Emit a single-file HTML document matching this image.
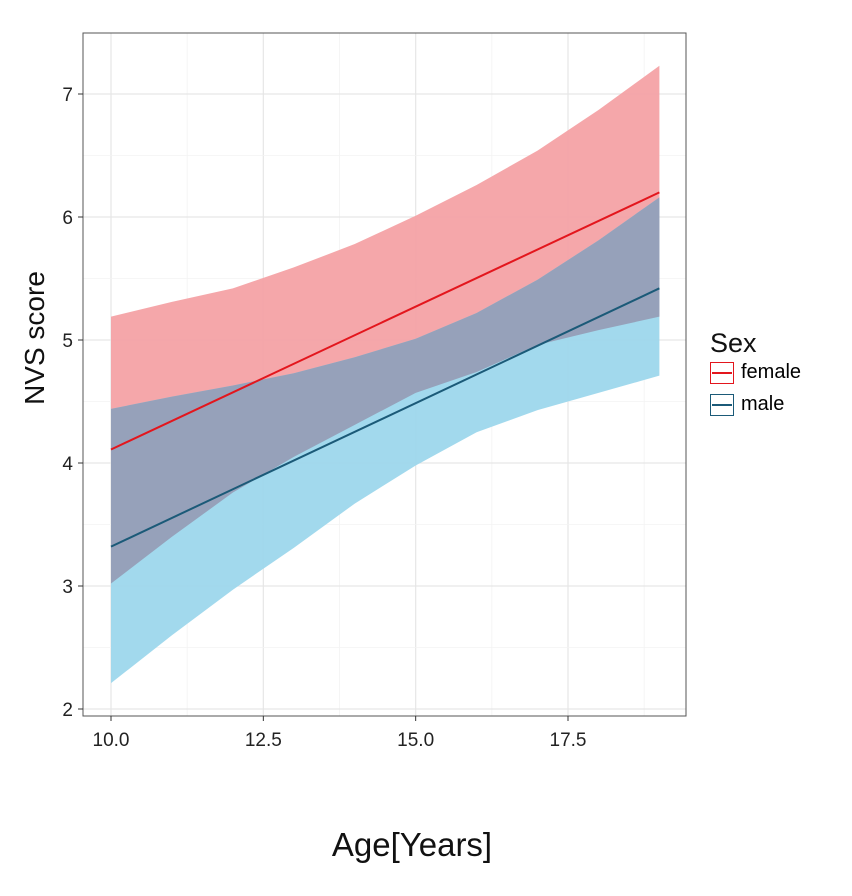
<!DOCTYPE html>
<html><head><meta charset="utf-8"><style>
body{margin:0;background:#fff;font-family:"Liberation Sans",Arial,sans-serif}
</style></head><body>
<svg id="chart" width="852" height="891" xmlns="http://www.w3.org/2000/svg"></svg>
<script>
const ages=[10,11,12,13,14,15,16,17,18,19];
const femaleUpper=[5.19,5.31,5.42,5.59,5.78,6.01,6.26,6.54,6.87,7.23];
const femaleLower=[3.02,3.40,3.76,4.05,4.31,4.57,4.74,4.96,5.08,5.19];
const maleUpper=[4.44,4.54,4.63,4.73,4.86,5.01,5.22,5.49,5.81,6.16];
const maleLower=[2.21,2.60,2.97,3.31,3.67,3.98,4.25,4.43,4.57,4.71];
const femaleFit=[4.11,6.20];
const maleFit=[3.32,5.42];
const fitAges=[10,19];
const xTicks=[10,12.5,15,17.5];
const xTickLabels=["10.0","12.5","15.0","17.5"];
const yTicks=[2,3,4,5,6,7];
const yTickLabels=["2","3","4","5","6","7"];

const svg=document.getElementById('chart');
const NS="http://www.w3.org/2000/svg";
const L=83,R=686,T=33,B=716;
const X=v=>111+(v-10)*(457/7.5);
const Y=v=>709-(v-2)*123;
function mk(tag,attrs,parent){const e=document.createElementNS(NS,tag);for(const k in attrs)e.setAttribute(k,attrs[k]);(parent||svg).appendChild(e);return e;}

const panel=mk('rect',{x:L,y:T,width:R-L,height:B-T,fill:'#fff'});


for(let v=8.75;v<=20;v+=1.25){const x=X(v);if(x<L||x>R)continue;const g=mk('line',{x1:x,x2:x,y1:T,y2:B,stroke:xTicks.includes(v)?'#e6e6e6':'#f3f3f3','stroke-width':xTicks.includes(v)?1.2:0.8});

}
for(let v=1.5;v<=7.6;v+=0.5){const y=Y(v);if(y<T||y>B)continue;const g=mk('line',{x1:L,x2:R,y1:y,y2:y,stroke:yTicks.includes(v)?'#e6e6e6':'#f3f3f3','stroke-width':yTicks.includes(v)?1.2:0.8});

}
function ribbon(up,lo,fill,name){
  let d='M'+ages.map((a,i)=>X(a)+','+Y(up[i])).join('L');
  d+='L'+ages.slice().reverse().map((a,j)=>{const i=ages.length-1-j;return X(a)+','+Y(lo[i]);}).join('L')+'Z';
  const p=mk('path',{d:d,fill:fill,'fill-opacity':0.93});
  
  
}
ribbon(femaleUpper,femaleLower,'#f4a0a4','female-ribbon');
ribbon(maleUpper,maleLower,'#9bd6ec','male-ribbon');
const ovUp=ages.map((a,i)=>Math.min(femaleUpper[i],maleUpper[i]));
const ovLo=ages.map((a,i)=>Math.max(femaleLower[i],maleLower[i]));
ribbon(ovUp,ovLo,'#959db6','overlap-ribbon');
const fl=mk('line',{x1:X(fitAges[0]),y1:Y(femaleFit[0]),x2:X(fitAges[1]),y2:Y(femaleFit[1]),stroke:'#e3161d','stroke-width':2});


const ml=mk('line',{x1:X(fitAges[0]),y1:Y(maleFit[0]),x2:X(fitAges[1]),y2:Y(maleFit[1]),stroke:'#1b5a78','stroke-width':2});


const border=mk('rect',{x:L,y:T,width:R-L,height:B-T,fill:'none',stroke:'#555','stroke-width':1});


xTicks.forEach((v,i)=>{
  const t=mk('line',{x1:X(v),x2:X(v),y1:B,y2:B+5,stroke:'#333'});
  
  
  const s=mk('text',{x:X(v),y:B+30,'text-anchor':'middle','font-size':19,fill:'#222'});
  s.textContent=xTickLabels[i];
  
  
});
yTicks.forEach((v,i)=>{
  const t=mk('line',{x1:L-5,x2:L,y1:Y(v),y2:Y(v),stroke:'#333'});
  
  
  const s=mk('text',{x:L-10,y:Y(v)+7,'text-anchor':'end','font-size':19,fill:'#222'});
  s.textContent=yTickLabels[i];
  
  
});
</script>
<div style="position:absolute;left:262px;top:826px;width:300px;text-align:center;font-size:33px;color:#111">Age[Years]</div>
<div style="position:absolute;left:-65px;top:322px;width:200px;text-align:center;font-size:28px;color:#111;transform:rotate(-90deg)">NVS score</div>
<div style="position:absolute;left:710px;top:328px">
 <div style="font-size:27px;color:#111">Sex</div>
 <div style="display:flex;align-items:center;margin-top:2px;font-size:20px">
  <span style="width:22px;height:20px;border:1px solid #e3161d;display:inline-block;position:relative;margin-right:7px"><span style="position:absolute;left:1px;right:1px;top:9px;height:2px;background:#e3161d"></span></span>female</div>
 <div style="display:flex;align-items:center;margin-top:9px;font-size:20px">
  <span style="width:22px;height:20px;border:1px solid #1b5a78;display:inline-block;position:relative;margin-right:7px"><span style="position:absolute;left:1px;right:1px;top:9px;height:2px;background:#1b5a78"></span></span>male</div>
</div>
</body></html>
